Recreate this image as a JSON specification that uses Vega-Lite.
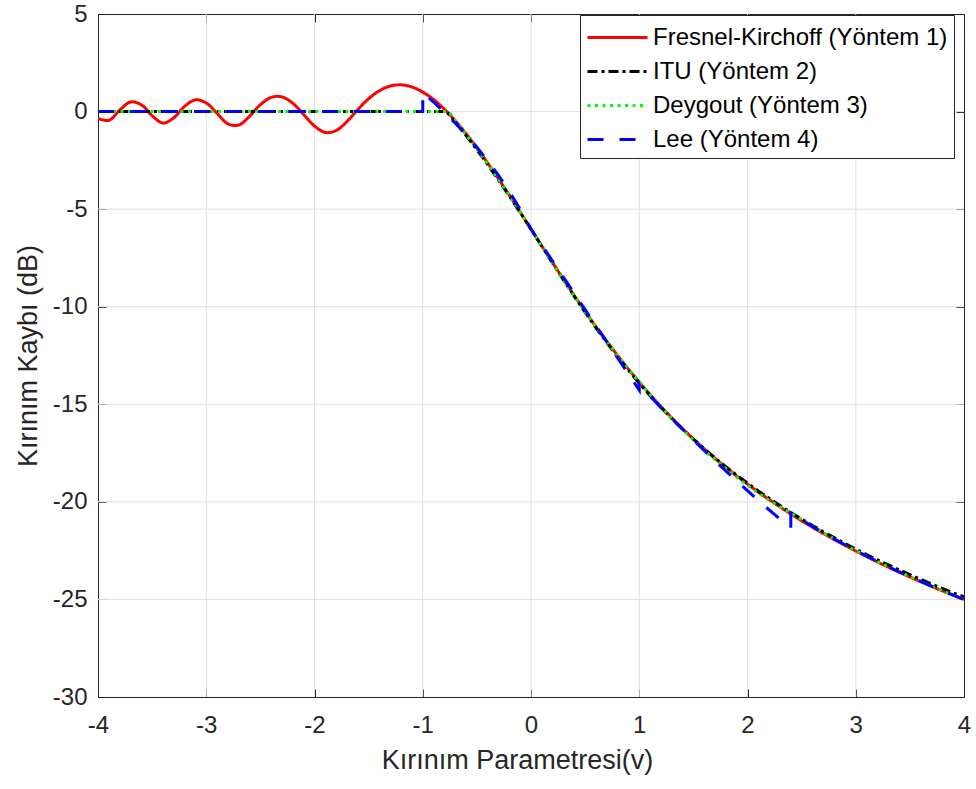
{
  "$schema": "https://vega.github.io/schema/vega-lite/v6.json",
  "width": 866,
  "height": 683,
  "autosize": {"type": "none"},
  "padding": {"left": 98, "top": 14, "right": 12, "bottom": 92},
  "background": "white",
  "config": {
    "view": {"stroke": "#262626", "strokeWidth": 1},
    "font": "Liberation Sans",
    "axis": {
      "domain": false,
      "grid": false,
      "tickColor": "#262626",
      "tickWidth": 1,
      "tickSize": 8,
      "offset": -8,
      "labelColor": "#262626",
      "labelFont": "Liberation Sans",
      "labelFontSize": 24,
      "labelFlush": false,
      "titleColor": "#262626",
      "titleFont": "Liberation Sans",
      "titleFontSize": 27,
      "titleFontWeight": "normal",
      "zindex": 1
    }
  },
  "data": {
    "values": [
      {"method": "Fresnel-Kirchoff (Yöntem 1)", "v": -4.0, "loss": -0.35},
      {"method": "Fresnel-Kirchoff (Yöntem 1)", "v": -3.9, "loss": -0.45},
      {"method": "Fresnel-Kirchoff (Yöntem 1)", "v": -3.8, "loss": 0.07},
      {"method": "Fresnel-Kirchoff (Yöntem 1)", "v": -3.7, "loss": 0.49},
      {"method": "Fresnel-Kirchoff (Yöntem 1)", "v": -3.6, "loss": 0.35},
      {"method": "Fresnel-Kirchoff (Yöntem 1)", "v": -3.5, "loss": -0.21},
      {"method": "Fresnel-Kirchoff (Yöntem 1)", "v": -3.4, "loss": -0.59},
      {"method": "Fresnel-Kirchoff (Yöntem 1)", "v": -3.3, "loss": -0.32},
      {"method": "Fresnel-Kirchoff (Yöntem 1)", "v": -3.2, "loss": 0.27},
      {"method": "Fresnel-Kirchoff (Yöntem 1)", "v": -3.1, "loss": 0.60},
      {"method": "Fresnel-Kirchoff (Yöntem 1)", "v": -3.0, "loss": 0.44},
      {"method": "Fresnel-Kirchoff (Yöntem 1)", "v": -2.9, "loss": -0.09},
      {"method": "Fresnel-Kirchoff (Yöntem 1)", "v": -2.8, "loss": -0.63},
      {"method": "Fresnel-Kirchoff (Yöntem 1)", "v": -2.7, "loss": -0.69},
      {"method": "Fresnel-Kirchoff (Yöntem 1)", "v": -2.6, "loss": -0.24},
      {"method": "Fresnel-Kirchoff (Yöntem 1)", "v": -2.5, "loss": 0.35},
      {"method": "Fresnel-Kirchoff (Yöntem 1)", "v": -2.4, "loss": 0.73},
      {"method": "Fresnel-Kirchoff (Yöntem 1)", "v": -2.3, "loss": 0.75},
      {"method": "Fresnel-Kirchoff (Yöntem 1)", "v": -2.2, "loss": 0.42},
      {"method": "Fresnel-Kirchoff (Yöntem 1)", "v": -2.1, "loss": -0.15},
      {"method": "Fresnel-Kirchoff (Yöntem 1)", "v": -2.0, "loss": -0.74},
      {"method": "Fresnel-Kirchoff (Yöntem 1)", "v": -1.9, "loss": -1.07},
      {"method": "Fresnel-Kirchoff (Yöntem 1)", "v": -1.8, "loss": -0.97},
      {"method": "Fresnel-Kirchoff (Yöntem 1)", "v": -1.7, "loss": -0.51},
      {"method": "Fresnel-Kirchoff (Yöntem 1)", "v": -1.6, "loss": 0.10},
      {"method": "Fresnel-Kirchoff (Yöntem 1)", "v": -1.5, "loss": 0.66},
      {"method": "Fresnel-Kirchoff (Yöntem 1)", "v": -1.4, "loss": 1.07},
      {"method": "Fresnel-Kirchoff (Yöntem 1)", "v": -1.3, "loss": 1.31},
      {"method": "Fresnel-Kirchoff (Yöntem 1)", "v": -1.2, "loss": 1.37},
      {"method": "Fresnel-Kirchoff (Yöntem 1)", "v": -1.1, "loss": 1.26},
      {"method": "Fresnel-Kirchoff (Yöntem 1)", "v": -1.0, "loss": 1.00},
      {"method": "Fresnel-Kirchoff (Yöntem 1)", "v": -0.9, "loss": 0.62},
      {"method": "Fresnel-Kirchoff (Yöntem 1)", "v": -0.8, "loss": 0.12},
      {"method": "Fresnel-Kirchoff (Yöntem 1)", "v": -0.7, "loss": -0.47},
      {"method": "Fresnel-Kirchoff (Yöntem 1)", "v": -0.6, "loss": -1.13},
      {"method": "Fresnel-Kirchoff (Yöntem 1)", "v": -0.5, "loss": -1.86},
      {"method": "Fresnel-Kirchoff (Yöntem 1)", "v": -0.4, "loss": -2.64},
      {"method": "Fresnel-Kirchoff (Yöntem 1)", "v": -0.3, "loss": -3.45},
      {"method": "Fresnel-Kirchoff (Yöntem 1)", "v": -0.2, "loss": -4.29},
      {"method": "Fresnel-Kirchoff (Yöntem 1)", "v": -0.1, "loss": -5.15},
      {"method": "Fresnel-Kirchoff (Yöntem 1)", "v": 0.0, "loss": -6.02},
      {"method": "Fresnel-Kirchoff (Yöntem 1)", "v": 0.1, "loss": -6.89},
      {"method": "Fresnel-Kirchoff (Yöntem 1)", "v": 0.2, "loss": -7.75},
      {"method": "Fresnel-Kirchoff (Yöntem 1)", "v": 0.3, "loss": -8.60},
      {"method": "Fresnel-Kirchoff (Yöntem 1)", "v": 0.4, "loss": -9.43},
      {"method": "Fresnel-Kirchoff (Yöntem 1)", "v": 0.5, "loss": -10.23},
      {"method": "Fresnel-Kirchoff (Yöntem 1)", "v": 0.6, "loss": -11.02},
      {"method": "Fresnel-Kirchoff (Yöntem 1)", "v": 0.7, "loss": -11.77},
      {"method": "Fresnel-Kirchoff (Yöntem 1)", "v": 0.8, "loss": -12.50},
      {"method": "Fresnel-Kirchoff (Yöntem 1)", "v": 0.9, "loss": -13.20},
      {"method": "Fresnel-Kirchoff (Yöntem 1)", "v": 1.0, "loss": -13.86},
      {"method": "Fresnel-Kirchoff (Yöntem 1)", "v": 1.1, "loss": -14.50},
      {"method": "Fresnel-Kirchoff (Yöntem 1)", "v": 1.2, "loss": -15.11},
      {"method": "Fresnel-Kirchoff (Yöntem 1)", "v": 1.3, "loss": -15.69},
      {"method": "Fresnel-Kirchoff (Yöntem 1)", "v": 1.4, "loss": -16.25},
      {"method": "Fresnel-Kirchoff (Yöntem 1)", "v": 1.5, "loss": -16.78},
      {"method": "Fresnel-Kirchoff (Yöntem 1)", "v": 1.6, "loss": -17.28},
      {"method": "Fresnel-Kirchoff (Yöntem 1)", "v": 1.7, "loss": -17.77},
      {"method": "Fresnel-Kirchoff (Yöntem 1)", "v": 1.8, "loss": -18.23},
      {"method": "Fresnel-Kirchoff (Yöntem 1)", "v": 1.9, "loss": -18.67},
      {"method": "Fresnel-Kirchoff (Yöntem 1)", "v": 2.0, "loss": -19.09},
      {"method": "Fresnel-Kirchoff (Yöntem 1)", "v": 2.1, "loss": -19.50},
      {"method": "Fresnel-Kirchoff (Yöntem 1)", "v": 2.2, "loss": -19.88},
      {"method": "Fresnel-Kirchoff (Yöntem 1)", "v": 2.3, "loss": -20.26},
      {"method": "Fresnel-Kirchoff (Yöntem 1)", "v": 2.4, "loss": -20.62},
      {"method": "Fresnel-Kirchoff (Yöntem 1)", "v": 2.5, "loss": -20.97},
      {"method": "Fresnel-Kirchoff (Yöntem 1)", "v": 2.6, "loss": -21.30},
      {"method": "Fresnel-Kirchoff (Yöntem 1)", "v": 2.7, "loss": -21.62},
      {"method": "Fresnel-Kirchoff (Yöntem 1)", "v": 2.8, "loss": -21.93},
      {"method": "Fresnel-Kirchoff (Yöntem 1)", "v": 2.9, "loss": -22.23},
      {"method": "Fresnel-Kirchoff (Yöntem 1)", "v": 3.0, "loss": -22.52},
      {"method": "Fresnel-Kirchoff (Yöntem 1)", "v": 3.1, "loss": -22.80},
      {"method": "Fresnel-Kirchoff (Yöntem 1)", "v": 3.2, "loss": -23.08},
      {"method": "Fresnel-Kirchoff (Yöntem 1)", "v": 3.3, "loss": -23.34},
      {"method": "Fresnel-Kirchoff (Yöntem 1)", "v": 3.4, "loss": -23.60},
      {"method": "Fresnel-Kirchoff (Yöntem 1)", "v": 3.5, "loss": -23.85},
      {"method": "Fresnel-Kirchoff (Yöntem 1)", "v": 3.6, "loss": -24.09},
      {"method": "Fresnel-Kirchoff (Yöntem 1)", "v": 3.7, "loss": -24.33},
      {"method": "Fresnel-Kirchoff (Yöntem 1)", "v": 3.8, "loss": -24.56},
      {"method": "Fresnel-Kirchoff (Yöntem 1)", "v": 3.9, "loss": -24.78},
      {"method": "Fresnel-Kirchoff (Yöntem 1)", "v": 4.0, "loss": -25.00},

      {"method": "ITU (Yöntem 2)", "v": -4.0, "loss": 0},
      {"method": "ITU (Yöntem 2)", "v": -0.78, "loss": 0},
      {"method": "ITU (Yöntem 2)", "v": -0.7, "loss": -0.54},
      {"method": "ITU (Yöntem 2)", "v": -0.6, "loss": -1.23},
      {"method": "ITU (Yöntem 2)", "v": -0.5, "loss": -1.96},
      {"method": "ITU (Yöntem 2)", "v": -0.4, "loss": -2.72},
      {"method": "ITU (Yöntem 2)", "v": -0.3, "loss": -3.51},
      {"method": "ITU (Yöntem 2)", "v": -0.2, "loss": -4.33},
      {"method": "ITU (Yöntem 2)", "v": -0.1, "loss": -5.17},
      {"method": "ITU (Yöntem 2)", "v": 0.0, "loss": -6.03},
      {"method": "ITU (Yöntem 2)", "v": 0.1, "loss": -6.90},
      {"method": "ITU (Yöntem 2)", "v": 0.2, "loss": -7.77},
      {"method": "ITU (Yöntem 2)", "v": 0.3, "loss": -8.63},
      {"method": "ITU (Yöntem 2)", "v": 0.4, "loss": -9.47},
      {"method": "ITU (Yöntem 2)", "v": 0.5, "loss": -10.29},
      {"method": "ITU (Yöntem 2)", "v": 0.6, "loss": -11.08},
      {"method": "ITU (Yöntem 2)", "v": 0.7, "loss": -11.84},
      {"method": "ITU (Yöntem 2)", "v": 0.8, "loss": -12.57},
      {"method": "ITU (Yöntem 2)", "v": 0.9, "loss": -13.26},
      {"method": "ITU (Yöntem 2)", "v": 1.0, "loss": -13.93},
      {"method": "ITU (Yöntem 2)", "v": 1.1, "loss": -14.56},
      {"method": "ITU (Yöntem 2)", "v": 1.2, "loss": -15.16},
      {"method": "ITU (Yöntem 2)", "v": 1.3, "loss": -15.73},
      {"method": "ITU (Yöntem 2)", "v": 1.4, "loss": -16.27},
      {"method": "ITU (Yöntem 2)", "v": 1.5, "loss": -16.78},
      {"method": "ITU (Yöntem 2)", "v": 1.6, "loss": -17.28},
      {"method": "ITU (Yöntem 2)", "v": 1.7, "loss": -17.75},
      {"method": "ITU (Yöntem 2)", "v": 1.8, "loss": -18.20},
      {"method": "ITU (Yöntem 2)", "v": 1.9, "loss": -18.63},
      {"method": "ITU (Yöntem 2)", "v": 2.0, "loss": -19.04},
      {"method": "ITU (Yöntem 2)", "v": 2.1, "loss": -19.44},
      {"method": "ITU (Yöntem 2)", "v": 2.2, "loss": -19.82},
      {"method": "ITU (Yöntem 2)", "v": 2.3, "loss": -20.19},
      {"method": "ITU (Yöntem 2)", "v": 2.4, "loss": -20.54},
      {"method": "ITU (Yöntem 2)", "v": 2.5, "loss": -20.88},
      {"method": "ITU (Yöntem 2)", "v": 2.6, "loss": -21.21},
      {"method": "ITU (Yöntem 2)", "v": 2.7, "loss": -21.53},
      {"method": "ITU (Yöntem 2)", "v": 2.8, "loss": -21.83},
      {"method": "ITU (Yöntem 2)", "v": 2.9, "loss": -22.13},
      {"method": "ITU (Yöntem 2)", "v": 3.0, "loss": -22.42},
      {"method": "ITU (Yöntem 2)", "v": 3.1, "loss": -22.70},
      {"method": "ITU (Yöntem 2)", "v": 3.2, "loss": -22.97},
      {"method": "ITU (Yöntem 2)", "v": 3.3, "loss": -23.23},
      {"method": "ITU (Yöntem 2)", "v": 3.4, "loss": -23.48},
      {"method": "ITU (Yöntem 2)", "v": 3.5, "loss": -23.73},
      {"method": "ITU (Yöntem 2)", "v": 3.6, "loss": -23.97},
      {"method": "ITU (Yöntem 2)", "v": 3.7, "loss": -24.21},
      {"method": "ITU (Yöntem 2)", "v": 3.8, "loss": -24.44},
      {"method": "ITU (Yöntem 2)", "v": 3.9, "loss": -24.66},
      {"method": "ITU (Yöntem 2)", "v": 4.0, "loss": -24.87},

      {"method": "Deygout (Yöntem 3)", "v": -4.0, "loss": 0},
      {"method": "Deygout (Yöntem 3)", "v": -0.76, "loss": 0},
      {"method": "Deygout (Yöntem 3)", "v": -0.7, "loss": -0.45},
      {"method": "Deygout (Yöntem 3)", "v": -0.6, "loss": -1.18},
      {"method": "Deygout (Yöntem 3)", "v": -0.5, "loss": -1.92},
      {"method": "Deygout (Yöntem 3)", "v": -0.4, "loss": -2.68},
      {"method": "Deygout (Yöntem 3)", "v": -0.3, "loss": -3.47},
      {"method": "Deygout (Yöntem 3)", "v": -0.2, "loss": -4.29},
      {"method": "Deygout (Yöntem 3)", "v": -0.1, "loss": -5.14},
      {"method": "Deygout (Yöntem 3)", "v": 0.0, "loss": -6.02},
      {"method": "Deygout (Yöntem 3)", "v": 0.1, "loss": -6.92},
      {"method": "Deygout (Yöntem 3)", "v": 0.2, "loss": -7.79},
      {"method": "Deygout (Yöntem 3)", "v": 0.3, "loss": -8.64},
      {"method": "Deygout (Yöntem 3)", "v": 0.4, "loss": -9.46},
      {"method": "Deygout (Yöntem 3)", "v": 0.5, "loss": -10.26},
      {"method": "Deygout (Yöntem 3)", "v": 0.6, "loss": -11.03},
      {"method": "Deygout (Yöntem 3)", "v": 0.7, "loss": -11.78},
      {"method": "Deygout (Yöntem 3)", "v": 0.8, "loss": -12.50},
      {"method": "Deygout (Yöntem 3)", "v": 0.9, "loss": -13.19},
      {"method": "Deygout (Yöntem 3)", "v": 1.0, "loss": -13.86},
      {"method": "Deygout (Yöntem 3)", "v": 1.1, "loss": -14.50},
      {"method": "Deygout (Yöntem 3)", "v": 1.2, "loss": -15.12},
      {"method": "Deygout (Yöntem 3)", "v": 1.3, "loss": -15.72},
      {"method": "Deygout (Yöntem 3)", "v": 1.4, "loss": -16.29},
      {"method": "Deygout (Yöntem 3)", "v": 1.5, "loss": -16.83},
      {"method": "Deygout (Yöntem 3)", "v": 1.6, "loss": -17.35},
      {"method": "Deygout (Yöntem 3)", "v": 1.7, "loss": -17.84},
      {"method": "Deygout (Yöntem 3)", "v": 1.8, "loss": -18.30},
      {"method": "Deygout (Yöntem 3)", "v": 1.9, "loss": -18.74},
      {"method": "Deygout (Yöntem 3)", "v": 2.0, "loss": -19.16},
      {"method": "Deygout (Yöntem 3)", "v": 2.1, "loss": -19.55},
      {"method": "Deygout (Yöntem 3)", "v": 2.2, "loss": -19.92},
      {"method": "Deygout (Yöntem 3)", "v": 2.3, "loss": -20.26},
      {"method": "Deygout (Yöntem 3)", "v": 2.4, "loss": -20.57},
      {"method": "Deygout (Yöntem 3)", "v": 2.5, "loss": -20.91},
      {"method": "Deygout (Yöntem 3)", "v": 2.6, "loss": -21.25},
      {"method": "Deygout (Yöntem 3)", "v": 2.7, "loss": -21.58},
      {"method": "Deygout (Yöntem 3)", "v": 2.8, "loss": -21.90},
      {"method": "Deygout (Yöntem 3)", "v": 2.9, "loss": -22.20},
      {"method": "Deygout (Yöntem 3)", "v": 3.0, "loss": -22.50},
      {"method": "Deygout (Yöntem 3)", "v": 3.2, "loss": -23.06},
      {"method": "Deygout (Yöntem 3)", "v": 3.4, "loss": -23.58},
      {"method": "Deygout (Yöntem 3)", "v": 3.6, "loss": -24.08},
      {"method": "Deygout (Yöntem 3)", "v": 3.8, "loss": -24.55},
      {"method": "Deygout (Yöntem 3)", "v": 4.0, "loss": -24.99},

      {"method": "Lee (Yöntem 4)", "v": -4.0, "loss": 0},
      {"method": "Lee (Yöntem 4)", "v": -1.0, "loss": 0},
      {"method": "Lee (Yöntem 4)", "v": -1.0, "loss": 0.98},
      {"method": "Lee (Yöntem 4)", "v": -0.9, "loss": 0.49},
      {"method": "Lee (Yöntem 4)", "v": -0.8, "loss": -0.03},
      {"method": "Lee (Yöntem 4)", "v": -0.7, "loss": -0.59},
      {"method": "Lee (Yöntem 4)", "v": -0.6, "loss": -1.19},
      {"method": "Lee (Yöntem 4)", "v": -0.5, "loss": -1.83},
      {"method": "Lee (Yöntem 4)", "v": -0.4, "loss": -2.52},
      {"method": "Lee (Yöntem 4)", "v": -0.3, "loss": -3.27},
      {"method": "Lee (Yöntem 4)", "v": -0.2, "loss": -4.10},
      {"method": "Lee (Yöntem 4)", "v": -0.1, "loss": -5.01},
      {"method": "Lee (Yöntem 4)", "v": 0.0, "loss": -6.02},
      {"method": "Lee (Yöntem 4)", "v": 0.5, "loss": -10.15},
      {"method": "Lee (Yöntem 4)", "v": 1.0, "loss": -14.27},
      {"method": "Lee (Yöntem 4)", "v": 1.0, "loss": -13.98},
      {"method": "Lee (Yöntem 4)", "v": 1.1, "loss": -14.58},
      {"method": "Lee (Yöntem 4)", "v": 1.2, "loss": -15.16},
      {"method": "Lee (Yöntem 4)", "v": 1.3, "loss": -15.73},
      {"method": "Lee (Yöntem 4)", "v": 1.4, "loss": -16.28},
      {"method": "Lee (Yöntem 4)", "v": 1.5, "loss": -16.83},
      {"method": "Lee (Yöntem 4)", "v": 1.6, "loss": -17.37},
      {"method": "Lee (Yöntem 4)", "v": 1.7, "loss": -17.90},
      {"method": "Lee (Yöntem 4)", "v": 1.8, "loss": -18.42},
      {"method": "Lee (Yöntem 4)", "v": 1.9, "loss": -18.93},
      {"method": "Lee (Yöntem 4)", "v": 2.0, "loss": -19.43},
      {"method": "Lee (Yöntem 4)", "v": 2.1, "loss": -19.93},
      {"method": "Lee (Yöntem 4)", "v": 2.2, "loss": -20.41},
      {"method": "Lee (Yöntem 4)", "v": 2.3, "loss": -20.88},
      {"method": "Lee (Yöntem 4)", "v": 2.4, "loss": -21.34},
      {"method": "Lee (Yöntem 4)", "v": 2.4, "loss": -20.56},
      {"method": "Lee (Yöntem 4)", "v": 2.5, "loss": -20.92},
      {"method": "Lee (Yöntem 4)", "v": 2.6, "loss": -21.26},
      {"method": "Lee (Yöntem 4)", "v": 2.7, "loss": -21.58},
      {"method": "Lee (Yöntem 4)", "v": 2.8, "loss": -21.90},
      {"method": "Lee (Yöntem 4)", "v": 2.9, "loss": -22.20},
      {"method": "Lee (Yöntem 4)", "v": 3.0, "loss": -22.50},
      {"method": "Lee (Yöntem 4)", "v": 3.1, "loss": -22.78},
      {"method": "Lee (Yöntem 4)", "v": 3.2, "loss": -23.06},
      {"method": "Lee (Yöntem 4)", "v": 3.3, "loss": -23.33},
      {"method": "Lee (Yöntem 4)", "v": 3.4, "loss": -23.59},
      {"method": "Lee (Yöntem 4)", "v": 3.5, "loss": -23.84},
      {"method": "Lee (Yöntem 4)", "v": 3.6, "loss": -24.08},
      {"method": "Lee (Yöntem 4)", "v": 3.7, "loss": -24.32},
      {"method": "Lee (Yöntem 4)", "v": 3.8, "loss": -24.55},
      {"method": "Lee (Yöntem 4)", "v": 3.9, "loss": -24.78},
      {"method": "Lee (Yöntem 4)", "v": 4.0, "loss": -25.00}
    ]
  },
  "layer": [
    {
      "data": {"values": [{"g": -3}, {"g": -2}, {"g": -1}, {"g": 0}, {"g": 1}, {"g": 2}, {"g": 3}]},
      "mark": {"type": "rule", "color": "#e0e0e0", "strokeWidth": 1},
      "encoding": {
        "x": {"field": "g", "type": "quantitative", "axis": null}
      }
    },
    {
      "data": {"values": [{"g": -25}, {"g": -20}, {"g": -15}, {"g": -10}, {"g": -5}, {"g": 0}]},
      "mark": {"type": "rule", "color": "#e0e0e0", "strokeWidth": 1},
      "encoding": {
        "y": {"field": "g", "type": "quantitative", "axis": null}
      }
    },
    {
      "transform": [{"filter": {"field": "method", "equal": "Fresnel-Kirchoff (Yöntem 1)"}}],
      "mark": {"type": "line", "strokeWidth": 3, "interpolate": "catmull-rom", "clip": true},
      "encoding": {
        "x": {"field": "v", "type": "quantitative", "scale": {"domain": [-4, 4], "nice": false, "zero": false},
              "axis": {"orient": "bottom", "values": [-4, -3, -2, -1, 0, 1, 2, 3, 4], "labelExpr": "'' + datum.value", "title": "Kırınım Parametresi(v)", "titleX": 419, "labelPadding": 16, "titlePadding": 10}},
        "y": {"field": "loss", "type": "quantitative", "scale": {"domain": [-30, 5], "nice": false, "zero": false},
              "axis": {"orient": "left", "values": [-30, -25, -20, -15, -10, -5, 0, 5], "labelExpr": "'' + datum.value", "title": "Kırınım Kaybı (dB)", "labelPadding": 11, "titlePadding": 10}},
        "color": {"field": "method", "type": "nominal",
                  "scale": {"domain": ["Fresnel-Kirchoff (Yöntem 1)", "ITU (Yöntem 2)", "Deygout (Yöntem 3)", "Lee (Yöntem 4)"], "range": ["#ff0000", "#000000", "#00ff00", "#0000ff"]},
                  "legend": {"orient": "none", "legendX": 482, "legendY": 1, "title": null, "symbolType": "M-2,0H2", "symbolSize": 900, "symbolOffset": 15, "symbolStrokeWidth": 3, "labelFontSize": 24, "labelFont": "Liberation Sans", "labelColor": "#000000", "labelOffset": 19, "rowPadding": 5, "padding": 6, "fillColor": "white", "strokeColor": "#262626", "labelLimit": 400}},
        "strokeDash": {"field": "method", "type": "nominal",
                       "scale": {"domain": ["Fresnel-Kirchoff (Yöntem 1)", "ITU (Yöntem 2)", "Deygout (Yöntem 3)", "Lee (Yöntem 4)"], "range": [[1, 0], [10, 4, 3, 4], [3, 4.5], [16, 16]]},
                       "legend": {"orient": "none", "legendX": 482, "legendY": 1, "title": null}},
        "order": {"value": null}
      }
    },
    {
      "transform": [{"filter": {"field": "method", "equal": "ITU (Yöntem 2)"}}],
      "mark": {"type": "line", "strokeWidth": 3, "clip": true},
      "encoding": {
        "x": {"field": "v", "type": "quantitative", "axis": null},
        "y": {"field": "loss", "type": "quantitative", "axis": null},
        "color": {"field": "method", "type": "nominal"},
        "strokeDash": {"field": "method", "type": "nominal"},
        "order": {"value": null}
      }
    },
    {
      "transform": [{"filter": {"field": "method", "equal": "Deygout (Yöntem 3)"}}],
      "mark": {"type": "line", "strokeWidth": 3, "clip": true},
      "encoding": {
        "x": {"field": "v", "type": "quantitative", "axis": null},
        "y": {"field": "loss", "type": "quantitative", "axis": null},
        "color": {"field": "method", "type": "nominal"},
        "strokeDash": {"field": "method", "type": "nominal"},
        "order": {"value": null}
      }
    },
    {
      "transform": [{"filter": {"field": "method", "equal": "Lee (Yöntem 4)"}}],
      "mark": {"type": "line", "strokeWidth": 3, "clip": true},
      "encoding": {
        "x": {"field": "v", "type": "quantitative",
              "axis": {"orient": "top", "values": [-4, -3, -2, -1, 0, 1, 2, 3, 4], "labels": false, "title": null}},
        "y": {"field": "loss", "type": "quantitative",
              "axis": {"orient": "right", "values": [-30, -25, -20, -15, -10, -5, 0, 5], "labels": false, "title": null}},
        "color": {"field": "method", "type": "nominal"},
        "strokeDash": {"field": "method", "type": "nominal"},
        "order": {"value": null}
      }
    }
  ],
  "resolve": {"axis": {"x": "independent", "y": "independent"}}
}
